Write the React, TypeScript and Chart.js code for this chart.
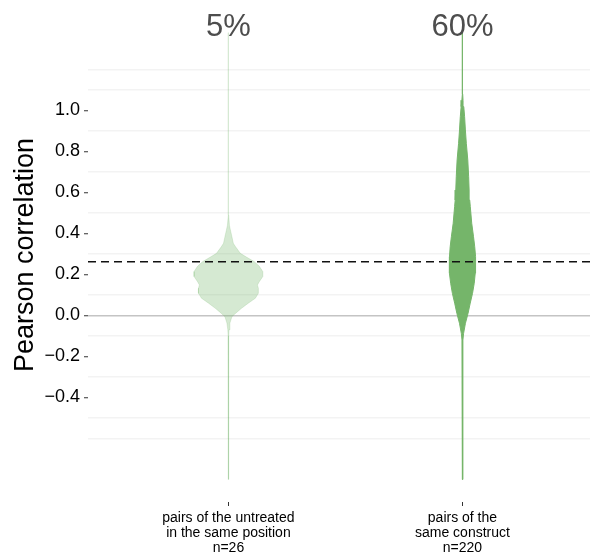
import React, { useEffect, useRef } from 'react';
import { Chart, registerables } from 'chart.js';

Chart.register(...registerables);

// ---- data ----
const categoryLabels = [
  ['pairs of the untreated', 'in the same position', 'n=26'],
  ['pairs of the', 'same construct', 'n=220'],
];
const categoryPositions = [1, 2];
const topLabels = ['5%', '60%'];
const topLabelValue = 1.407;
const thresholdValue = 0.262;
const yGridValues = [-0.6, -0.5, -0.4, -0.3, -0.2, -0.1, 0, 0.1, 0.2, 0.3, 0.4, 0.5, 0.6, 0.7, 0.8, 0.9, 1.0, 1.1, 1.2];
const yLabelValues = [-0.4, -0.2, 0, 0.2, 0.4, 0.6, 0.8, 1.0];

// violin profiles: correlation value and half-width (in category units)
const untreatedY = [-0.8, -0.1, -0.07, -0.037, -0.006, 0.01, 0.035, 0.06, 0.084, 0.108, 0.133, 0.149, 0.165, 0.19, 0.214, 0.24, 0.262, 0.285, 0.303, 0.336, 0.352, 0.384, 0.417, 0.44, 0.49, 1.38];
const untreatedHalfWidth = [0.0011, 0.0013, 0.0026, 0.0064, 0.015, 0.03, 0.056, 0.085, 0.115, 0.128, 0.128, 0.124, 0.132, 0.147, 0.147, 0.132, 0.111, 0.077, 0.051, 0.03, 0.021, 0.015, 0.0085, 0.0043, 0.0013, 0.0011];

const constructY = [-0.8, -0.12, -0.087, -0.038, 0.01, 0.06, 0.108, 0.157, 0.206, 0.262, 0.287, 0.336, 0.384, 0.45, 0.531, 0.563, 0.612, 0.677, 0.759, 0.84, 0.905, 0.97, 1.019, 1.05, 1.08, 1.38];
const constructHalfWidth = [0.0011, 0.0019, 0.0049, 0.0127, 0.0238, 0.0332, 0.043, 0.0503, 0.0546, 0.0567, 0.0554, 0.0524, 0.0473, 0.0396, 0.0335, 0.031, 0.0285, 0.0265, 0.0228, 0.0165, 0.0125, 0.0092, 0.0056, 0.0025, 0.0011, 0.0011];

const X_MIN = 0.4;
const X_MAX = 2.545;
const Y_MIN = -0.91;
const Y_MAX = 1.5;

const FONT = '"Liberation Sans", Arial, Helvetica, sans-serif';

function violinPoints(center: number, ys: number[], ws: number[]) {
  const right = ys.map((y, i) => ({ x: center + ws[i], y }));
  const left = ys.map((y, i) => ({ x: center - ws[i], y })).reverse();
  return [...right, ...left, right[0]];
}

const topLabelPlugin = {
  id: 'topLabels',
  afterDatasetsDraw(chart: any) {
    const { ctx, scales } = chart;
    const xs = scales.x;
    const ys = scales.y;
    ctx.save();
    ctx.font = `31px ${FONT}`;
    ctx.fillStyle = '#4d4d4d';
    ctx.textAlign = 'center';
    ctx.textBaseline = 'middle';
    topLabels.forEach((t, i) => {
      ctx.fillText(t, xs.getPixelForValue(categoryPositions[i]), ys.getPixelForValue(topLabelValue));
    });
    ctx.restore();
  },
};

function isLabeled(v: number) {
  return yLabelValues.some((l) => Math.abs(l - v) < 1e-6);
}

export default function App() {
  const ref = useRef<HTMLCanvasElement | null>(null);

  useEffect(() => {
    document.body.style.margin = '0';
    const canvas = ref.current;
    if (!canvas) return;
    const chart = new Chart(canvas, {
      type: 'scatter',
      data: {
        datasets: [
          {
            data: [
              { x: X_MIN, y: thresholdValue },
              { x: X_MAX, y: thresholdValue },
            ],
            showLine: true,
            borderColor: '#111',
            borderWidth: 1.5,
            borderDash: [8, 5],
            pointRadius: 0,
            fill: false,
          },
          {
            data: violinPoints(categoryPositions[0], untreatedY, untreatedHalfWidth),
            showLine: true,
            borderColor: 'rgba(117,181,106,0.2)',
            backgroundColor: 'rgba(117,181,106,0.3)',
            borderWidth: 1,
            pointRadius: 0,
            tension: 0,
            fill: 'shape',
          },
          {
            data: violinPoints(categoryPositions[1], constructY, constructHalfWidth),
            showLine: true,
            borderColor: 'rgb(117,181,106)',
            backgroundColor: 'rgb(117,181,106)',
            borderWidth: 1,
            pointRadius: 0,
            tension: 0,
            fill: 'shape',
          },
        ],
      },
      options: {
        responsive: false,
        animation: false,
        devicePixelRatio: 1,
        layout: { padding: { top: 8, right: 0, left: 0, bottom: 0 } },
        plugins: {
          legend: { display: false },
          tooltip: { enabled: false },
        },
        scales: {
          x: {
            type: 'linear',
            min: X_MIN,
            max: X_MAX,
            afterBuildTicks: (scale: any) => {
              scale.ticks = categoryPositions.map((v) => ({ value: v }));
            },
            afterFit: (scale: any) => {
              scale.height = 50;
              scale.paddingLeft = 0;
              scale.paddingRight = 0;
            },
            border: { display: false },
            grid: {
              display: true,
              drawOnChartArea: false,
              drawTicks: true,
              tickLength: 4,
              tickColor: '#333',
              tickWidth: 1,
            },
            ticks: {
              padding: 5,
              maxRotation: 0,
              autoSkip: false,
              color: '#000',
              font: { family: FONT, size: 14, lineHeight: 15 / 14 },
              callback: (_v: any, i: number) => categoryLabels[i],
            },
          },
          y: {
            type: 'linear',
            min: Y_MIN,
            max: Y_MAX,
            afterBuildTicks: (scale: any) => {
              scale.ticks = yGridValues.map((v) => ({ value: v }));
            },
            afterFit: (scale: any) => {
              scale.width = 88;
              scale.paddingTop = 0;
              scale.paddingBottom = 0;
            },
            border: { display: false },
            title: {
              display: true,
              text: 'Pearson correlation',
              color: '#000',
              font: { family: FONT, size: 27 },
              padding: { top: 9, bottom: 0 },
            },
            grid: {
              drawTicks: true,
              tickLength: 4,
              tickWidth: 1,
              lineWidth: 1.5,
              color: (ctx: any) => {
                const v = ctx.tick ? ctx.tick.value : 0;
                if (Math.abs(v) < 1e-6) return '#c4c4c4';
                if (isLabeled(v)) return 'rgba(0,0,0,0)';
                return '#f3f3f3';
              },
              tickColor: (ctx: any) => {
                const v = ctx.tick ? ctx.tick.value : 0;
                return isLabeled(v) ? '#333' : 'rgba(0,0,0,0)';
              },
            },
            ticks: {
              padding: 4,
              color: '#000',
              font: { family: FONT, size: 18 },
              callback: (v: any) => {
                const n = Number(v);
                if (!isLabeled(n)) return '';
                const s = Math.abs(n).toFixed(1);
                return n < -1e-6 ? '\u2212' + s : s;
              },
            },
          },
        },
      },
      plugins: [topLabelPlugin],
    } as any);
    return () => chart.destroy();
  }, []);

  return (
    <canvas
      ref={ref}
      width={590}
      height={552}
      style={{ display: 'block', width: 590, height: 552 }}
    />
  );
}
